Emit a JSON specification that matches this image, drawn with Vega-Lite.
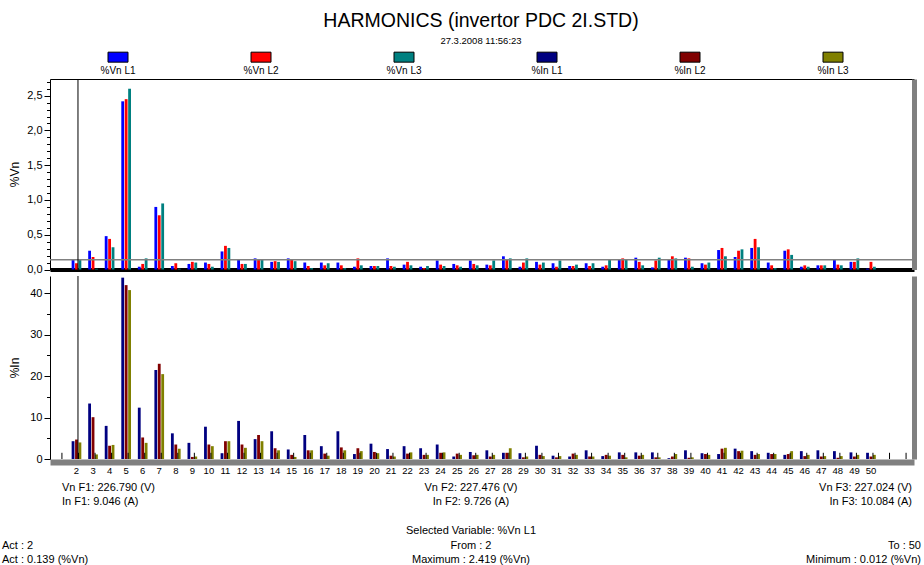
{
  "$schema": "https://vega.github.io/schema/vega-lite/v6.json",
  "padding": {"left": 2, "top": 11, "right": 0, "bottom": 0},
  "background": "white",
  "config": {
    "font": "Liberation Sans",
    "view": {"stroke": null},
    "axis": {"labelFont": "Liberation Sans", "titleFont": "Liberation Sans", "labelColor": "#000", "titleColor": "#000", "domainColor": "#000", "tickColor": "#000", "grid": false, "titleFontWeight": "normal"}
  },
  "title": {"text": "HARMONICS (invertor PDC 2I.STD)", "subtitle": "27.3.2008 11:56:23", "fontSize": 19.5, "fontWeight": "normal", "subtitleFontSize": 9.5, "subtitleColor": "#000", "color": "#000", "anchor": "middle", "dx": 18, "offset": 1, "subtitlePadding": 4, "font": "Liberation Sans", "subtitleFont": "Liberation Sans"},
  "spacing": 0,
  "datasets": {
    "legend": [
      {"s": "vn1", "label": "%Vn L1"}, {"s": "vn2", "label": "%Vn L2"}, {"s": "vn3", "label": "%Vn L3"},
      {"s": "in1", "label": "%In L1"}, {"s": "in2", "label": "%In L2"}, {"s": "in3", "label": "%In L3"}
    ],
    "bars": [
      {"h":2,"s":"vn1","v":0.139},{"h":2,"s":"vn2","v":0.09},{"h":2,"s":"vn3","v":0.14},
      {"h":3,"s":"vn1","v":0.27},{"h":3,"s":"vn2","v":0.18},{"h":3,"s":"vn3","v":0.01},
      {"h":4,"s":"vn1","v":0.48},{"h":4,"s":"vn2","v":0.44},{"h":4,"s":"vn3","v":0.32},
      {"h":5,"s":"vn1","v":2.419},{"h":5,"s":"vn2","v":2.45},{"h":5,"s":"vn3","v":2.6},
      {"h":6,"s":"vn1","v":0.04},{"h":6,"s":"vn2","v":0.08},{"h":6,"s":"vn3","v":0.16},
      {"h":7,"s":"vn1","v":0.9},{"h":7,"s":"vn2","v":0.78},{"h":7,"s":"vn3","v":0.95},
      {"h":8,"s":"vn1","v":0.05},{"h":8,"s":"vn2","v":0.09},{"h":8,"s":"vn3","v":0.01},
      {"h":9,"s":"vn1","v":0.08},{"h":9,"s":"vn2","v":0.11},{"h":9,"s":"vn3","v":0.1},
      {"h":10,"s":"vn1","v":0.1},{"h":10,"s":"vn2","v":0.08},{"h":10,"s":"vn3","v":0.04},
      {"h":11,"s":"vn1","v":0.26},{"h":11,"s":"vn2","v":0.34},{"h":11,"s":"vn3","v":0.31},
      {"h":12,"s":"vn1","v":0.15},{"h":12,"s":"vn2","v":0.08},{"h":12,"s":"vn3","v":0.08},
      {"h":13,"s":"vn1","v":0.16},{"h":13,"s":"vn2","v":0.14},{"h":13,"s":"vn3","v":0.14},
      {"h":14,"s":"vn1","v":0.11},{"h":14,"s":"vn2","v":0.12},{"h":14,"s":"vn3","v":0.11},
      {"h":15,"s":"vn1","v":0.16},{"h":15,"s":"vn2","v":0.14},{"h":15,"s":"vn3","v":0.12},
      {"h":16,"s":"vn1","v":0.1},{"h":16,"s":"vn2","v":0.05},{"h":16,"s":"vn3","v":0.02},
      {"h":17,"s":"vn1","v":0.1},{"h":17,"s":"vn2","v":0.06},{"h":17,"s":"vn3","v":0.09},
      {"h":18,"s":"vn1","v":0.1},{"h":18,"s":"vn2","v":0.06},{"h":18,"s":"vn3","v":0.02},
      {"h":19,"s":"vn1","v":0.04},{"h":19,"s":"vn2","v":0.16},{"h":19,"s":"vn3","v":0.06},
      {"h":20,"s":"vn1","v":0.05},{"h":20,"s":"vn2","v":0.05},{"h":20,"s":"vn3","v":0.05},
      {"h":21,"s":"vn1","v":0.16},{"h":21,"s":"vn2","v":0.05},{"h":21,"s":"vn3","v":0.04},
      {"h":22,"s":"vn1","v":0.07},{"h":22,"s":"vn2","v":0.11},{"h":22,"s":"vn3","v":0.06},
      {"h":23,"s":"vn1","v":0.04},{"h":23,"s":"vn2","v":0.02},{"h":23,"s":"vn3","v":0.05},
      {"h":24,"s":"vn1","v":0.13},{"h":24,"s":"vn2","v":0.07},{"h":24,"s":"vn3","v":0.05},
      {"h":25,"s":"vn1","v":0.08},{"h":25,"s":"vn2","v":0.06},{"h":25,"s":"vn3","v":0.04},
      {"h":26,"s":"vn1","v":0.13},{"h":26,"s":"vn2","v":0.08},{"h":26,"s":"vn3","v":0.06},
      {"h":27,"s":"vn1","v":0.07},{"h":27,"s":"vn2","v":0.06},{"h":27,"s":"vn3","v":0.13},
      {"h":28,"s":"vn1","v":0.19},{"h":28,"s":"vn2","v":0.14},{"h":28,"s":"vn3","v":0.16},
      {"h":29,"s":"vn1","v":0.04},{"h":29,"s":"vn2","v":0.1},{"h":29,"s":"vn3","v":0.16},
      {"h":30,"s":"vn1","v":0.11},{"h":30,"s":"vn2","v":0.07},{"h":30,"s":"vn3","v":0.1},
      {"h":31,"s":"vn1","v":0.09},{"h":31,"s":"vn2","v":0.04},{"h":31,"s":"vn3","v":0.13},
      {"h":32,"s":"vn1","v":0.05},{"h":32,"s":"vn2","v":0.05},{"h":32,"s":"vn3","v":0.07},
      {"h":33,"s":"vn1","v":0.09},{"h":33,"s":"vn2","v":0.05},{"h":33,"s":"vn3","v":0.09},
      {"h":34,"s":"vn1","v":0.04},{"h":34,"s":"vn2","v":0.06},{"h":34,"s":"vn3","v":0.14},
      {"h":35,"s":"vn1","v":0.15},{"h":35,"s":"vn2","v":0.16},{"h":35,"s":"vn3","v":0.14},
      {"h":36,"s":"vn1","v":0.17},{"h":36,"s":"vn2","v":0.11},{"h":36,"s":"vn3","v":0.06},
      {"h":37,"s":"vn1","v":0.03},{"h":37,"s":"vn2","v":0.13},{"h":37,"s":"vn3","v":0.17},
      {"h":38,"s":"vn1","v":0.15},{"h":38,"s":"vn2","v":0.19},{"h":38,"s":"vn3","v":0.16},
      {"h":39,"s":"vn1","v":0.17},{"h":39,"s":"vn2","v":0.16},{"h":39,"s":"vn3","v":0.04},
      {"h":40,"s":"vn1","v":0.09},{"h":40,"s":"vn2","v":0.07},{"h":40,"s":"vn3","v":0.1},
      {"h":41,"s":"vn1","v":0.28},{"h":41,"s":"vn2","v":0.31},{"h":41,"s":"vn3","v":0.19},
      {"h":42,"s":"vn1","v":0.18},{"h":42,"s":"vn2","v":0.27},{"h":42,"s":"vn3","v":0.29},
      {"h":43,"s":"vn1","v":0.31},{"h":43,"s":"vn2","v":0.44},{"h":43,"s":"vn3","v":0.32},
      {"h":44,"s":"vn1","v":0.1},{"h":44,"s":"vn2","v":0.06},{"h":44,"s":"vn3","v":0.02},
      {"h":45,"s":"vn1","v":0.27},{"h":45,"s":"vn2","v":0.29},{"h":45,"s":"vn3","v":0.21},
      {"h":46,"s":"vn1","v":0.04},{"h":46,"s":"vn2","v":0.06},{"h":46,"s":"vn3","v":0.04},
      {"h":47,"s":"vn1","v":0.06},{"h":47,"s":"vn2","v":0.06},{"h":47,"s":"vn3","v":0.06},
      {"h":48,"s":"vn1","v":0.15},{"h":48,"s":"vn2","v":0.07},{"h":48,"s":"vn3","v":0.06},
      {"h":49,"s":"vn1","v":0.11},{"h":49,"s":"vn2","v":0.11},{"h":49,"s":"vn3","v":0.16},
      {"h":50,"s":"vn1","v":0.012},{"h":50,"s":"vn2","v":0.11},{"h":50,"s":"vn3","v":0.04},
      {"h":2,"s":"in1","v":4.3},{"h":2,"s":"in2","v":4.7},{"h":2,"s":"in3","v":4.0},
      {"h":3,"s":"in1","v":13.4},{"h":3,"s":"in2","v":10.1},{"h":3,"s":"in3","v":1.1},
      {"h":4,"s":"in1","v":8.0},{"h":4,"s":"in2","v":3.2},{"h":4,"s":"in3","v":3.4},
      {"h":5,"s":"in1","v":43.8},{"h":5,"s":"in2","v":42.0},{"h":5,"s":"in3","v":40.8},
      {"h":6,"s":"in1","v":12.4},{"h":6,"s":"in2","v":5.2},{"h":6,"s":"in3","v":3.9},
      {"h":7,"s":"in1","v":21.5},{"h":7,"s":"in2","v":23.0},{"h":7,"s":"in3","v":20.5},
      {"h":8,"s":"in1","v":6.2},{"h":8,"s":"in2","v":3.5},{"h":8,"s":"in3","v":2.5},
      {"h":9,"s":"in1","v":3.9},{"h":9,"s":"in2","v":0.5},{"h":9,"s":"in3","v":0.6},
      {"h":10,"s":"in1","v":7.8},{"h":10,"s":"in2","v":3.5},{"h":10,"s":"in3","v":3.1},
      {"h":11,"s":"in1","v":1.4},{"h":11,"s":"in2","v":4.3},{"h":11,"s":"in3","v":4.3},
      {"h":12,"s":"in1","v":9.2},{"h":12,"s":"in2","v":3.5},{"h":12,"s":"in3","v":2.7},
      {"h":13,"s":"in1","v":4.8},{"h":13,"s":"in2","v":5.8},{"h":13,"s":"in3","v":4.3},
      {"h":14,"s":"in1","v":6.7},{"h":14,"s":"in2","v":2.6},{"h":14,"s":"in3","v":2.1},
      {"h":15,"s":"in1","v":2.3},{"h":15,"s":"in2","v":1.0},{"h":15,"s":"in3","v":0.5},
      {"h":16,"s":"in1","v":5.8},{"h":16,"s":"in2","v":2.1},{"h":16,"s":"in3","v":2.1},
      {"h":17,"s":"in1","v":3.1},{"h":17,"s":"in2","v":1.3},{"h":17,"s":"in3","v":0.8},
      {"h":18,"s":"in1","v":6.7},{"h":18,"s":"in2","v":2.8},{"h":18,"s":"in3","v":2.1},
      {"h":19,"s":"in1","v":1.2},{"h":19,"s":"in2","v":2.6},{"h":19,"s":"in3","v":1.9},
      {"h":20,"s":"in1","v":3.7},{"h":20,"s":"in2","v":1.7},{"h":20,"s":"in3","v":1.4},
      {"h":21,"s":"in1","v":2.4},{"h":21,"s":"in2","v":0.8},{"h":21,"s":"in3","v":0.6},
      {"h":22,"s":"in1","v":3.1},{"h":22,"s":"in2","v":1.3},{"h":22,"s":"in3","v":1.6},
      {"h":23,"s":"in1","v":2.6},{"h":23,"s":"in2","v":1.0},{"h":23,"s":"in3","v":1.0},
      {"h":24,"s":"in1","v":3.5},{"h":24,"s":"in2","v":1.5},{"h":24,"s":"in3","v":1.6},
      {"h":25,"s":"in1","v":0.6},{"h":25,"s":"in2","v":1.3},{"h":25,"s":"in3","v":1.0},
      {"h":26,"s":"in1","v":1.7},{"h":26,"s":"in2","v":0.9},{"h":26,"s":"in3","v":1.0},
      {"h":27,"s":"in1","v":2.1},{"h":27,"s":"in2","v":0.6},{"h":27,"s":"in3","v":1.0},
      {"h":28,"s":"in1","v":1.5},{"h":28,"s":"in2","v":1.5},{"h":28,"s":"in3","v":2.6},
      {"h":29,"s":"in1","v":1.4},{"h":29,"s":"in2","v":0.4},{"h":29,"s":"in3","v":0.6},
      {"h":30,"s":"in1","v":3.2},{"h":30,"s":"in2","v":1.0},{"h":30,"s":"in3","v":0.7},
      {"h":31,"s":"in1","v":0.8},{"h":31,"s":"in2","v":0.4},{"h":31,"s":"in3","v":0.7},
      {"h":32,"s":"in1","v":0.6},{"h":32,"s":"in2","v":1.3},{"h":32,"s":"in3","v":1.0},
      {"h":33,"s":"in1","v":2.1},{"h":33,"s":"in2","v":0.6},{"h":33,"s":"in3","v":0.6},
      {"h":34,"s":"in1","v":0.7},{"h":34,"s":"in2","v":1.0},{"h":34,"s":"in3","v":0.8},
      {"h":35,"s":"in1","v":1.6},{"h":35,"s":"in2","v":1.0},{"h":35,"s":"in3","v":0.4},
      {"h":36,"s":"in1","v":1.6},{"h":36,"s":"in2","v":0.8},{"h":36,"s":"in3","v":1.0},
      {"h":37,"s":"in1","v":1.6},{"h":37,"s":"in2","v":0.4},{"h":37,"s":"in3","v":0.4},
      {"h":38,"s":"in1","v":0.2},{"h":38,"s":"in2","v":0.6},{"h":38,"s":"in3","v":1.2},
      {"h":39,"s":"in1","v":2.1},{"h":39,"s":"in2","v":0.3},{"h":39,"s":"in3","v":0.4},
      {"h":40,"s":"in1","v":1.4},{"h":40,"s":"in2","v":1.2},{"h":40,"s":"in3","v":1.0},
      {"h":41,"s":"in1","v":1.2},{"h":41,"s":"in2","v":2.5},{"h":41,"s":"in3","v":2.7},
      {"h":42,"s":"in1","v":2.5},{"h":42,"s":"in2","v":1.9},{"h":42,"s":"in3","v":2.0},
      {"h":43,"s":"in1","v":1.9},{"h":43,"s":"in2","v":1.0},{"h":43,"s":"in3","v":1.2},
      {"h":44,"s":"in1","v":1.5},{"h":44,"s":"in2","v":1.2},{"h":44,"s":"in3","v":1.2},
      {"h":45,"s":"in1","v":1.0},{"h":45,"s":"in2","v":1.2},{"h":45,"s":"in3","v":1.9},
      {"h":46,"s":"in1","v":1.9},{"h":46,"s":"in2","v":0.7},{"h":46,"s":"in3","v":1.0},
      {"h":47,"s":"in1","v":2.1},{"h":47,"s":"in2","v":0.6},{"h":47,"s":"in3","v":0.7},
      {"h":48,"s":"in1","v":1.9},{"h":48,"s":"in2","v":0.3},{"h":48,"s":"in3","v":0.7},
      {"h":49,"s":"in1","v":1.6},{"h":49,"s":"in2","v":0.6},{"h":49,"s":"in3","v":1.0},
      {"h":50,"s":"in1","v":1.5},{"h":50,"s":"in2","v":0.6},{"h":50,"s":"in3","v":1.0}
    ],
    "markers": [
      {"h":1,"m":1.5},{"h":2,"m":1.5},{"h":3,"m":1.5},{"h":4,"m":1.5},{"h":5,"m":1.5},{"h":6,"m":1.5},{"h":7,"m":1.5},{"h":8,"m":1.5},{"h":9,"m":1.5},{"h":10,"m":1.5},
      {"h":11,"m":1.5},{"h":12,"m":1.5},{"h":13,"m":1.5},{"h":14,"m":1.5},{"h":15,"m":1.5},{"h":16,"m":1.5},{"h":17,"m":1.5},{"h":18,"m":1.5},{"h":19,"m":1.5},{"h":20,"m":1.5},
      {"h":21,"m":1.5},{"h":22,"m":1.5},{"h":23,"m":1.5},{"h":24,"m":1.5},{"h":25,"m":1.5},{"h":26,"m":1.5},{"h":27,"m":1.5},{"h":28,"m":1.5},{"h":29,"m":1.5},{"h":30,"m":1.5},
      {"h":31,"m":1.5},{"h":32,"m":1.5},{"h":33,"m":1.5},{"h":34,"m":1.5},{"h":35,"m":1.5},{"h":36,"m":1.5},{"h":37,"m":1.5},{"h":38,"m":1.5},{"h":39,"m":1.5},{"h":40,"m":1.5},
      {"h":41,"m":1.5},{"h":42,"m":1.5},{"h":43,"m":1.5},{"h":44,"m":1.5},{"h":45,"m":1.5},{"h":46,"m":1.5},{"h":47,"m":1.5},{"h":48,"m":1.5},{"h":49,"m":1.5},{"h":50,"m":1.5},
      {"h":51,"m":1.5},{"h":52,"m":1.5}
    ],
    "footer": [
      {"col":"a","line":1,"text":"Vn F1: 226.790 (V)"},
      {"col":"a","line":2,"text":"In F1: 9.046 (A)"},
      {"col":"c","line":1,"text":"Vn F2: 227.476 (V)"},
      {"col":"c","line":2,"text":"In F2: 9.726 (A)"},
      {"col":"e","line":1,"text":"Vn F3: 227.024 (V)"},
      {"col":"e","line":2,"text":"In F3: 10.084 (A)"},
      {"col":"c","line":4,"text":"Selected Variable: %Vn L1"},
      {"col":"L","line":5,"text":"Act : 2"},
      {"col":"c","line":5,"text":"From : 2"},
      {"col":"R","line":5,"text":"To : 50"},
      {"col":"L","line":6,"text":"Act : 0.139 (%Vn)"},
      {"col":"c","line":6,"text":"Maximum : 2.419 (%Vn)"},
      {"col":"R","line":6,"text":"Minimum : 0.012 (%Vn)"}
    ]
  },
  "resolve": {"scale": {"color": "shared", "x": "independent", "y": "independent", "xOffset": "independent"}},
  "vconcat": [
    {
      "width": 864, "height": 30.5,
      "data": {"name": "legend"},
      "layer": [
        {
          "mark": {"type": "point", "shape": "M-1,-0.5H1V0.5H-1Z", "size": 400, "filled": true, "opacity": 1, "stroke": "#000", "strokeWidth": 1},
          "encoding": {
            "x": {"field": "s", "type": "nominal", "sort": null, "scale": {"type": "point", "domain": ["vn1","vn2","vn3","in1","in2","in3"], "range": [68, 783], "padding": 0}, "axis": null},
            "y": {"datum": 2, "type": "quantitative", "scale": {"domain": [0, 3]}, "axis": null},
            "color": {"field": "s", "type": "nominal", "scale": {"domain": ["vn1","vn2","vn3","in1","in2","in3"], "range": ["#0000ff","#ff0000","#008080","#000080","#800000","#808000"]}, "legend": null}
          }
        },
        {
          "mark": {"type": "text", "dy": 14, "fontSize": 10, "color": "#000"},
          "encoding": {
            "x": {"field": "s", "type": "nominal", "sort": null, "axis": null},
            "y": {"datum": 2, "type": "quantitative", "axis": null},
            "text": {"field": "label"}
          }
        }
      ]
    },
    {
      "width": 864, "height": 190.5,
      "resolve": {"axis": {"x": "independent", "y": "independent"}},
      "layer": [
        {
          "data": {"name": "bars"},
          "transform": [{"filter": "indexof(['vn1','vn2','vn3'], datum.s) >= 0"}],
          "mark": {"type": "bar"},
          "encoding": {
            "x": {"field": "h", "type": "ordinal", "scale": {"domain": [1,2,3,4,5,6,7,8,9,10,11,12,13,14,15,16,17,18,19,20,21,22,23,24,25,26,27,28,29,30,31,32,33,34,35,36,37,38,39,40,41,42,43,44,45,46,47,48,49,50,51,52], "paddingInner": 0, "paddingOuter": 0.1}, "axis": {"orient": "bottom", "labels": false, "ticks": false, "title": null, "domainColor": "#000", "domainWidth": 4, "minExtent": 0, "maxExtent": 0}},
            "xOffset": {"field": "s", "type": "nominal", "scale": {"domain": ["vn1","vn2","vn3"], "paddingInner": 0.18, "paddingOuter": 1.65}},
            "y": {"field": "v", "type": "quantitative", "scale": {"domain": [0, 2.74], "nice": false}, "axis": {"orient": "left", "title": "%Vn", "values": [0, 0.5, 1, 1.5, 2, 2.5], "labelExpr": "replace(format(datum.value, '.1f'), '.', ',')", "tickSize": 6, "labelFontSize": 11, "titleFontSize": 12, "labelPadding": 2, "minExtent": 48, "maxExtent": 48, "titleX": -36, "titleY": 95, "titleBaseline": "middle"}},
            "color": {"field": "s", "type": "nominal", "legend": null}
          }
        },
        {
          "data": {"values": [{}]},
          "mark": {"type": "rule", "color": "#808080", "strokeWidth": 1.5},
          "encoding": {
            "y": {"datum": 0.139, "type": "quantitative", "axis": {"orient": "right", "labels": false, "ticks": false, "title": null, "domainColor": "#808080", "domainWidth": 5, "minExtent": 0, "maxExtent": 3}}
          }
        },
        {
          "data": {"values": [{}]},
          "mark": {"type": "rule", "color": "#000", "strokeWidth": 1, "xOffset": 1.5},
          "encoding": {
            "x": {"datum": 2, "type": "ordinal", "axis": {"orient": "top", "labels": false, "ticks": false, "title": null, "domainColor": "#000", "domainWidth": 1, "minExtent": 0, "maxExtent": 0}},
            "y": {"datum": 0, "type": "quantitative", "axis": {"orient": "left", "labels": false, "domain": false, "title": null, "tickSize": 3.5, "values": [0.1,0.2,0.3,0.4,0.6,0.7,0.8,0.9,1.1,1.2,1.3,1.4,1.6,1.7,1.8,1.9,2.1,2.2,2.3,2.4,2.6,2.7], "minExtent": 48, "maxExtent": 48}},
            "y2": {"datum": 2.74}
          }
        }
      ]
    },
    {
      "width": 864, "height": 183,
      "resolve": {"axis": {"x": "independent", "y": "independent"}},
      "layer": [
        {
          "data": {"name": "bars"},
          "transform": [{"filter": "indexof(['in1','in2','in3'], datum.s) >= 0"}],
          "mark": {"type": "bar"},
          "encoding": {
            "x": {"field": "h", "type": "ordinal", "scale": {"domain": [1,2,3,4,5,6,7,8,9,10,11,12,13,14,15,16,17,18,19,20,21,22,23,24,25,26,27,28,29,30,31,32,33,34,35,36,37,38,39,40,41,42,43,44,45,46,47,48,49,50,51,52], "paddingInner": 0, "paddingOuter": 0.1}, "axis": {"orient": "bottom", "title": null, "ticks": false, "labelAngle": 0, "labelOverlap": false, "labelFontSize": 9.5, "labelPadding": 3, "offset": 3, "domainColor": "#808080", "domainWidth": 6, "labelExpr": "datum.value >= 2 && datum.value <= 50 ? datum.label : ''", "minExtent": 18, "maxExtent": 18}},
            "xOffset": {"field": "s", "type": "nominal", "scale": {"domain": ["in1","in2","in3"], "paddingInner": 0.18, "paddingOuter": 1.65}},
            "y": {"field": "v", "type": "quantitative", "scale": {"domain": [0, 44.2], "nice": false}, "axis": {"orient": "left", "title": "%In", "values": [0, 10, 20, 30, 40], "tickSize": 6, "labelFontSize": 11, "titleFontSize": 12, "labelPadding": 2, "minExtent": 48, "maxExtent": 48, "titleX": -36, "titleY": 91.5, "titleBaseline": "middle"}},
            "color": {"field": "s", "type": "nominal", "legend": null}
          }
        },
        {
          "data": {"name": "markers"},
          "mark": {"type": "rule", "color": "#000", "strokeWidth": 1, "xOffset": 2},
          "encoding": {
            "x": {"field": "h", "type": "ordinal", "axis": null},
            "y": {"field": "m", "type": "quantitative", "axis": {"orient": "left", "labels": false, "domain": false, "title": null, "tickSize": 3.5, "values": [5, 15, 25, 35], "minExtent": 48, "maxExtent": 48}},
            "y2": {"datum": 0}
          }
        },
        {
          "data": {"values": [{}]},
          "mark": {"type": "rule", "color": "#000", "strokeWidth": 1, "xOffset": 1.5},
          "encoding": {
            "x": {"datum": 2, "type": "ordinal", "axis": null},
            "y": {"datum": 0, "type": "quantitative", "axis": {"orient": "right", "labels": false, "ticks": false, "title": null, "domainColor": "#808080", "domainWidth": 5, "minExtent": 0, "maxExtent": 3}},
            "y2": {"datum": 44.2}
          }
        }
      ]
    },
    {
      "width": 874, "height": 88,
      "data": {"name": "footer"},
      "encoding": {
        "y": {"field": "line", "type": "quantitative", "scale": {"domain": [0.45, 6.55], "reverse": true}, "axis": null},
        "text": {"field": "text"}
      },
      "layer": [
        {
          "transform": [{"filter": "datum.col == 'a'"}],
          "mark": {"type": "text", "align": "left", "dx": 12, "fontSize": 11, "color": "#000"},
          "encoding": {"x": {"datum": "left", "type": "nominal", "scale": {"type": "point", "domain": ["left", "center", "right"], "padding": 0}, "axis": null}}
        },
        {
          "transform": [{"filter": "datum.col == 'L'"}],
          "mark": {"type": "text", "align": "left", "dx": -48, "fontSize": 11, "color": "#000"},
          "encoding": {"x": {"datum": "left", "type": "nominal", "axis": null}}
        },
        {
          "transform": [{"filter": "datum.col == 'c'"}],
          "mark": {"type": "text", "align": "center", "dx": -16, "fontSize": 11, "color": "#000"},
          "encoding": {"x": {"datum": "center", "type": "nominal", "axis": null}}
        },
        {
          "transform": [{"filter": "datum.col == 'e'"}],
          "mark": {"type": "text", "align": "right", "dx": -12, "fontSize": 11, "color": "#000"},
          "encoding": {"x": {"datum": "right", "type": "nominal", "axis": null}}
        },
        {
          "transform": [{"filter": "datum.col == 'R'"}],
          "mark": {"type": "text", "align": "right", "dx": -3, "fontSize": 11, "color": "#000"},
          "encoding": {"x": {"datum": "right", "type": "nominal", "axis": null}}
        }
      ]
    }
  ]
}
